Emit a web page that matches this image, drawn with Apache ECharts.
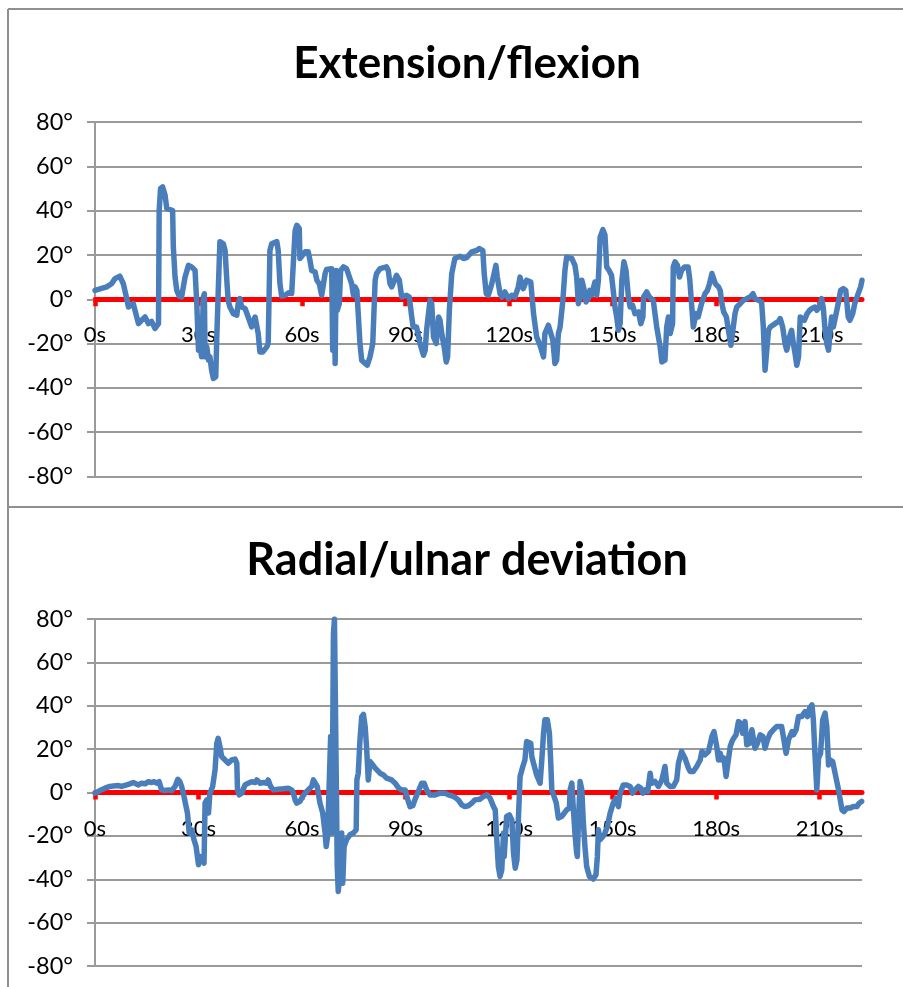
<!DOCTYPE html>
<html>
<head>
<meta charset="utf-8">
<script src="https://cdn.jsdelivr.net/npm/echarts@6/dist/echarts.min.js"></script>
<style>
  html, body { margin: 0; padding: 0; background: #fff; }
  #chart { width: 903px; height: 987px; }
</style>
</head>
<body>
<div id="chart"></div>
<script>
// Wrist angle over time: extension/flexion (top) and radial/ulnar deviation (bottom)
const titles = ['Extension/flexion', 'Radial/ulnar deviation'];
const secondTicks = [0, 30, 60, 90, 120, 150, 180, 210];
const angleTicks = [-80, -60, -40, -20, 0, 20, 40, 60, 80];

const flexTime = [0,3.4,4.8,5.8,7.2,7.7,8.2,9.2,9.7,10.1,11.1,11.6,12.6,13.5,14.5,15.5,16.4,17.4,18.4,18.6,19.0,19.6,20.3,20.8,21.7,22.5,22.7,23.2,23.7,24.4,25.1,26.1,27.1,28.0,29.0,29.5,30.0,30.4,30.9,31.4,31.7,31.9,32.4,32.9,33.3,33.8,34.3,35.0,35.3,35.7,36.2,37.2,37.7,38.2,38.6,39.1,39.6,40.1,41.1,41.5,42.0,42.5,43.5,44.4,45.4,46.4,46.9,47.3,47.8,48.6,49.8,50.2,50.7,51.2,52.7,53.1,53.6,54.1,55.1,56.1,57.0,57.5,58.0,58.5,59.2,59.4,60.2,60.9,61.8,62.3,62.8,63.8,64.3,65.0,65.7,66.7,67.1,68.6,68.9,69.3,69.6,69.9,70.2,70.8,71.2,72.0,72.9,73.4,74.4,74.9,75.4,75.9,76.8,77.3,78.3,78.9,79.7,80.5,81.2,81.6,82.6,84.5,85.0,85.5,86.0,87.0,87.4,88.2,88.9,89.4,90.3,91.1,91.8,92.2,93.2,94.2,95.2,95.7,96.1,97.1,97.6,98.1,98.9,99.6,100.0,100.5,101.2,101.8,102.2,102.7,103.4,104.3,105.8,106.8,107.7,109.2,110.6,111.4,112.4,112.8,113.4,114.0,115.0,116.2,116.6,117.4,117.9,118.8,119.8,120.8,121.7,122.7,123.2,123.7,124.1,125.1,126.3,127.1,128.0,129.0,130.0,130.4,131.4,131.9,132.7,133.3,133.8,134.3,134.8,135.6,136.2,136.7,137.2,138.2,139.1,139.6,140.1,140.6,141.1,141.7,142.3,143.0,143.4,143.9,144.4,144.9,145.4,145.9,146.4,147.2,147.8,148.3,149.0,149.7,150.2,150.7,151.2,151.7,152.2,152.7,153.3,153.9,154.6,155.1,155.8,156.5,157.5,158.2,158.8,159.0,159.9,160.7,161.8,162.8,163.8,164.3,165.2,165.7,166.2,166.7,167.4,167.6,168.1,168.8,169.4,170.0,170.9,171.9,172.4,172.9,173.4,174.2,174.8,175.8,176.8,177.5,178.1,178.8,179.3,179.8,180.7,181.2,181.7,182.2,183.0,183.6,184.3,185.0,185.5,186.0,187.0,187.9,188.9,189.9,190.7,191.3,192.3,193.2,193.7,194.2,194.7,195.2,195.7,196.2,197.1,198.1,198.6,199.3,200.0,200.5,201.3,201.9,202.4,202.9,203.4,203.9,204.4,204.9,205.6,206.4,207.1,207.8,208.3,208.7,209.2,210.0,210.6,211.1,211.6,212.1,212.6,213.1,213.5,214.0,214.8,215.4,216.1,216.9,217.6,218.3,218.8,219.6,220.2,221.2,221.9,222.3];
const flexAngle = [4,5.6,7,9.3,10.4,10,7,0.3,-3.5,-4.2,-2,-5,-11,-9.5,-8,-11,-10,-13.2,-11,40,50,50.7,47,41,40.5,40,23.6,10,4,1.4,1,10,15.3,14.6,13,-2,-23,-20,-26,1,2.5,-26,-21.5,-27.5,-26,-32,-35.8,-35,-17,2.5,26,25,22,8.6,-0.5,-3.5,-2.7,-6.5,-7.2,-2,0.3,-3.5,-4.2,-8,-12.5,-8,-8,-15.5,-23.8,-23.8,-21.5,-20,22,25,26,22,7,1.4,1.8,2.9,2.6,1.8,31,33.4,32,18.4,20,21.4,21.4,17.6,13,12.3,8.6,7,1.8,11.6,13.4,13.8,-23,10,-29,13,-5,-2,13,14.6,13.8,13,7,1.8,5.6,4,-20,-27.5,-29,-29.8,-26,-20,8.6,11.6,13.8,14.6,13,7,5.6,9.3,10.8,8.6,1,1.8,1.8,1,-8,-12.5,-12.5,-20,-25.3,-23,-14,-0.5,-2,-17,-20,-8,-9.5,-15.5,-21.5,-28.3,-26,-5,11.6,18.4,19.4,18.4,18.8,21.4,22,22.9,22,11.6,2.5,1.8,7,15.3,10,2.5,1,3.3,0.3,1.8,1,5.6,10,9.3,4.8,8.6,7.8,-6.5,-17,-20.8,-26,-15.5,-11.7,-12.5,-18.5,-29,-27.5,-15.5,-12.5,-0.5,13,19,19.9,18.4,15.3,10,-2,1,8.6,4.8,-1.2,0.3,4,1.8,4.8,7.8,1.8,8.6,28,31.4,29,14.6,13,10.8,4,-3.5,-8,-14,-11,8.6,16.9,13,1,-3.5,-2.7,-6.5,-5.7,-11,-8,1,3.3,1,-0.5,-12.5,-21.5,-28.3,-27.5,-12.5,-8,-15.5,-11,14.6,16.9,15.3,10,13,14.6,14.6,8.6,-2,-12.5,-6.5,-8,-2,2.5,4,7,11.6,9.3,7,5.6,4,-2,-5.7,-8,-14,-20.8,-12.5,-6.5,-3.5,-2,-0.5,0.3,1,2.5,0.3,-0.5,-1.2,-12.5,-32,-31.3,-14,-12.5,-13.2,-11,-10,-8.7,-12.5,-20,-23,-17,-14,-20,-24.5,-29.8,-26,-8,-7.2,-9.5,-6.5,-5,-4.2,-5,-3.5,-5,-3.5,0.3,-4.2,-14,-20,-23,-14,-8,-12.5,-6.5,-2,4,4.8,4,-8,-9.5,-6.5,-2,2.5,5.6,8.6];

const devTime = [0,1.4,2.9,4.3,5.3,6.8,7.7,9.2,10.1,11.1,11.6,12.6,13.5,14.5,15.5,16.4,17.1,17.9,18.6,19.3,20.3,21.3,22.2,23.2,24.0,24.6,25.1,25.8,26.4,26.8,27.3,28.0,28.7,29.3,30.0,30.4,31.2,31.6,31.9,32.4,32.9,33.3,34.1,34.8,35.3,35.7,36.2,36.7,37.7,38.6,39.6,40.6,41.1,41.3,41.8,42.5,43.5,44.4,45.4,46.4,46.9,47.8,48.8,49.8,50.2,50.9,51.7,53.1,54.6,56.0,57.0,57.5,58.0,58.5,59.4,60.2,60.9,61.8,62.8,63.3,63.8,64.4,65.2,66.0,66.7,67.0,67.4,67.9,68.3,68.7,69.1,69.4,69.7,70.0,70.2,70.5,71.0,71.5,71.8,72.2,72.9,73.9,74.9,75.7,75.9,76.3,76.8,77.3,77.8,78.3,78.7,79.2,79.7,80.5,81.2,81.7,82.6,83.6,84.5,86.0,87.0,88.0,88.9,89.9,90.8,91.3,92.1,92.7,93.7,94.7,95.4,96.1,97.1,98.6,100.0,101.4,102.4,103.4,104.3,105.3,106.3,107.2,108.2,109.2,110.1,111.6,112.6,113.6,114.5,115.5,116.0,116.4,116.9,117.4,117.9,118.4,118.6,119.3,120.1,120.8,121.3,121.8,122.3,122.7,123.2,124.0,124.6,125.1,125.6,126.3,126.6,127.1,128.0,129.0,129.5,130.0,130.4,131.1,131.7,132.1,132.4,132.9,133.7,134.3,135.3,136.0,136.7,137.5,137.7,138.2,138.6,139.1,139.6,139.8,140.1,140.6,141.1,141.5,142.0,142.5,143.3,144.4,145.2,145.6,145.9,146.4,147.2,147.8,148.5,149.3,150.2,151.0,151.7,152.2,153.1,154.1,155.1,155.8,156.5,157.5,158.2,158.8,159.5,160.2,160.9,161.3,162.3,163.3,164.3,165.2,165.7,166.7,167.6,168.6,169.1,170.0,171.0,172.0,172.5,173.4,174.4,175.4,175.9,176.8,177.8,178.8,179.4,180.2,180.7,181.2,181.7,182.3,182.9,183.3,184.1,184.6,185.1,185.8,186.5,187.1,187.7,188.4,188.9,189.7,190.4,190.8,191.3,192.0,192.8,193.6,194.2,194.9,195.7,196.6,197.6,199.0,199.5,200.3,201.0,202.0,202.4,203.2,203.9,204.8,205.8,206.5,207.1,207.8,208.2,208.7,209.2,209.7,210.3,210.9,211.6,212.1,212.6,213.1,213.8,214.5,215.0,215.5,216.0,216.5,217.1,217.9,218.8,219.8,220.8,221.5,222.2];
const devAngle = [-0.3,0.9,2,2.8,3,3.2,2.8,3.5,4,4.6,3.8,3.5,4.3,4,5,4.6,5,4.3,5,1.2,0.9,1.2,0.9,2.8,6.1,5,2.8,-1.8,-6.5,-9.5,-18.7,-17.2,-21.8,-24.9,-33.3,-29.5,-31,-32.6,-4.9,-3.4,-9.5,-0.3,2.8,10.4,22.7,25,21.2,16.6,15,13.5,15,15.4,13.5,1.2,-1.1,-0.3,3.5,4.3,5,4.6,5.8,4.3,4.6,4.3,5.8,2.8,1.2,1.5,1.7,2,1.2,-0.3,-3.4,-4.9,-4.1,-1.8,-0.3,1.2,2.8,5.8,6.6,2.8,-4.9,-9.5,-18.7,-24.9,-20.3,-19.5,25.8,-18.7,73,80,80,-3.4,-34,-45.6,-37,-18.7,-41.8,-24.9,-21.8,-19.5,-18.7,-17.2,5.8,8.9,24.3,35,36,30.4,21.2,5.8,14.3,12.7,11.2,10.4,8.9,8.1,6.6,5.8,4.3,2,1.2,1.2,-4.1,-6.5,-6.1,-3.4,0.5,4.3,4.3,1.2,-1.1,-1.1,-0.3,-0.3,-1.1,-1.5,-2.2,-3.4,-5.7,-6.5,-6.1,-4.9,-3.4,-3.1,-1.8,-1.1,-2.6,-6.5,-8,-20.3,-34.1,-38.7,-35.6,-18.7,-29.5,-11,-10.3,-12.6,-28,-34.9,-31,-12.6,7.4,12,15,23.5,24.3,22.7,16.6,13.5,8.1,4.3,15,27.3,33.5,33.5,27.3,13.5,1.2,-1.1,-4.9,-11.8,-11,-9.5,-8,-7.2,1.2,4.3,-6.5,-18.7,-28,-29.5,-14.1,5.1,1.2,-12.6,-24.9,-34.1,-38.7,-39.9,-37.9,-29.5,-17.2,-21.8,-20.3,-18.7,-15.7,-9.5,-4.9,-2.6,-6.5,-0.3,3.5,3.5,2.8,-0.3,1.2,2.8,2,-0.3,1.2,0.5,8.9,4.3,5.1,2.8,5.8,12,4.3,2.8,2.8,5.8,13.5,18.9,15.8,11.2,9.7,9.7,12,15,18.9,17.4,18.9,25.8,28.1,21.2,15,18.1,15,15.8,7.4,6.6,21.2,23.5,25,26.6,32.7,32,27.3,32.7,22,22.7,28.9,25,20.4,22.7,26.6,25.8,20.4,24.3,27.3,28.9,30.4,30.4,25.8,18.1,24.3,28.1,26.6,28.9,35,35,37.3,35,38.9,40.4,33.5,16.6,1.2,15.8,18.1,33.5,36.6,30.4,12.7,15,14.3,8.9,8.1,1.2,-3.4,-8,-8.8,-7.2,-7.2,-6.5,-6.5,-4.9,-4.1];

const FONT = 'Lato, "Liberation Sans", sans-serif';
const LINE_BLUE = '#4a7ebb';
const GRID_GRAY = '#9a9a9a';

// plot boxes (pixels) for the two panels
const plots = [
  { left: 95, top: 122, width: 767, height: 354.5 },
  { left: 95, top: 619, width: 767, height: 347 }
];

function pairs(xs, ys) {
  return xs.map((x, i) => [x, ys[i]]);
}

// the time axis runs through 0° (the middle of the symmetric angle range)
function xAxisFor(gridIndex) {
  return {
    type: 'value',
    gridIndex,
    position: 'bottom',
    offset: -plots[gridIndex].height / 2,
    min: 0,
    max: 222.3,
    axisLine: { onZero: false, lineStyle: { color: '#ff0000', width: 5 } },
    axisTick: {
      show: true, customValues: secondTicks, length: 7, inside: false,
      lineStyle: { color: '#ff0000', width: 4.5 }
    },
    axisLabel: {
      customValues: secondTicks, margin: 25,
      formatter: v => v + 's',
      color: '#000', fontSize: 22, fontFamily: FONT
    },
    splitLine: { show: false }
  };
}

function yAxisFor(gridIndex) {
  return {
    type: 'value',
    gridIndex,
    min: angleTicks[0],
    max: angleTicks[angleTicks.length - 1],
    interval: 20,
    axisLine: { show: true, onZero: false, lineStyle: { color: GRID_GRAY, width: 2 } },
    axisTick: { show: true, length: 8, lineStyle: { color: GRID_GRAY, width: 2 } },
    axisLabel: {
      margin: 22,
      formatter: v => v + '°',
      color: '#000', fontSize: 23.5, fontFamily: FONT
    },
    splitLine: { show: true, lineStyle: { color: GRID_GRAY, width: 2 } }
  };
}

function seriesFor(idx, xs, ys) {
  return {
    type: 'line',
    xAxisIndex: idx,
    yAxisIndex: idx,
    data: pairs(xs, ys),
    showSymbol: false,
    symbol: 'none',
    clip: true,
    lineStyle: { color: LINE_BLUE, width: 5.5, join: 'round', cap: 'round' },
    z: 5
  };
}

const chart = echarts.init(document.getElementById('chart'), null, { renderer: 'canvas' });

const titleStyle = { fontFamily: FONT, fontWeight: 'bold', fontSize: 44, color: '#000' };

chart.setOption({
  animation: false,
  backgroundColor: '#ffffff',
  title: [
    { text: titles[0], left: 462, top: 37, textAlign: 'center', textStyle: titleStyle },
    { text: titles[1], left: 462, top: 533, textAlign: 'center', textStyle: Object.assign({}, titleStyle, { fontSize: 45 }) }
  ],
  grid: plots.map(p => Object.assign({ outerBoundsMode: 'none', containLabel: false }, p)),
  xAxis: [xAxisFor(0), xAxisFor(1)],
  yAxis: [yAxisFor(0), yAxisFor(1)],
  series: [
    seriesFor(0, flexTime, flexAngle),
    seriesFor(1, devTime, devAngle)
  ],
  graphic: [
    // outer frames of the two chart boxes
    { type: 'line', shape: { x1: 8, y1: 9, x2: 903, y2: 9 }, style: { stroke: '#8f8f8f', lineWidth: 2 }, silent: true },
    { type: 'line', shape: { x1: 8, y1: 9, x2: 8, y2: 987 }, style: { stroke: '#8f8f8f', lineWidth: 2 }, silent: true },
    { type: 'line', shape: { x1: 8, y1: 507, x2: 903, y2: 507 }, style: { stroke: '#8f8f8f', lineWidth: 2 }, silent: true }
  ]
});
</script>
</body>
</html>
